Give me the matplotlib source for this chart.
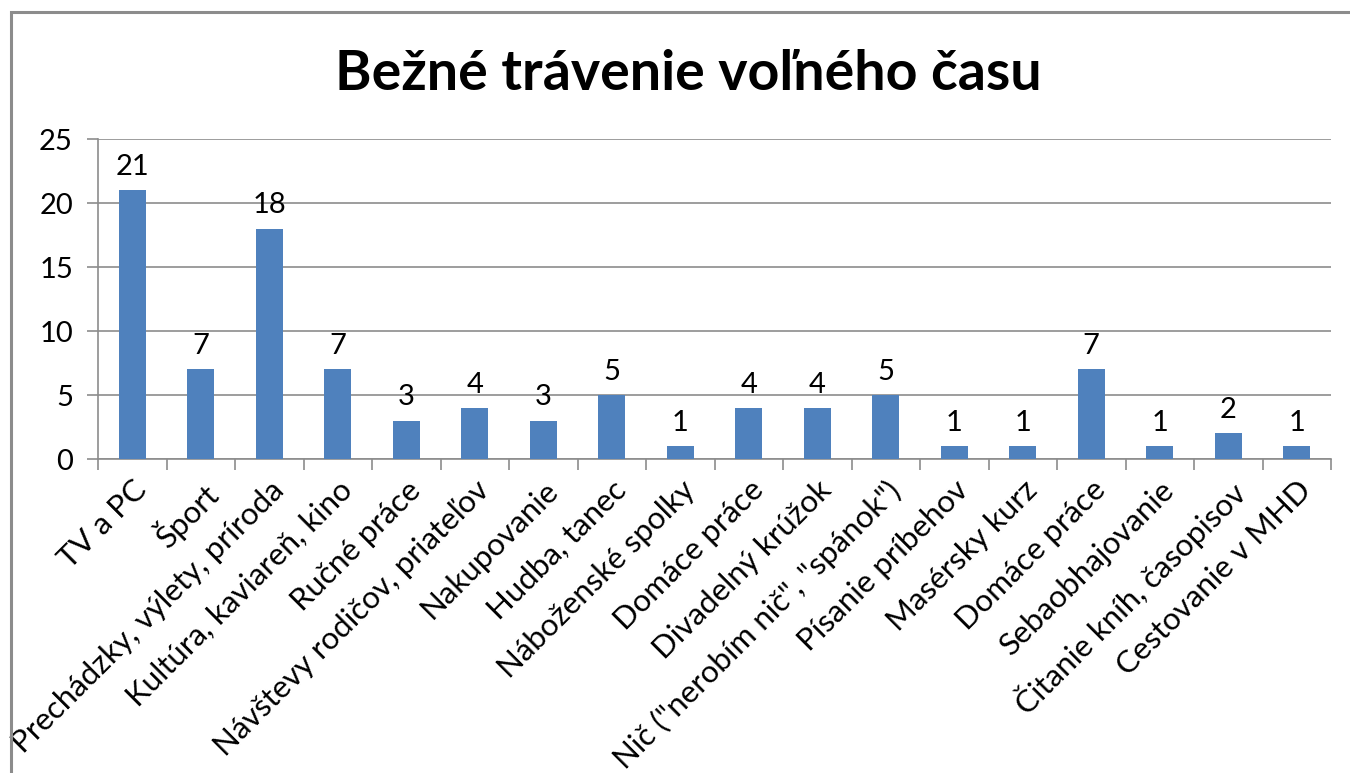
import numpy as np
import matplotlib
matplotlib.use("Agg")
import matplotlib.pyplot as plt
from matplotlib.patches import Rectangle

# ---------------------------------------------------------------------------
# Data
# ---------------------------------------------------------------------------
categories = [
    "TV a PC",
    "Šport",
    "Prechádzky, výlety, príroda",
    "Kultúra, kaviareň, kino",
    "Ručné práce",
    "Návštevy rodičov, priateľov",
    "Nakupovanie",
    "Hudba, tanec",
    "Náboženské spolky",
    "Domáce práce",
    "Divadelný krúžok",
    "Nič (\"nerobím nič\", \"spánok\")",
    "Písanie príbehov",
    "Masérsky kurz",
    "Domáce práce",
    "Sebaobhajovanie",
    "Čitanie kníh, časopisov",
    "Cestovanie v MHD",
]
values = [21, 7, 18, 7, 3, 4, 3, 5, 1, 4, 4, 5, 1, 1, 7, 1, 2, 1]
y_ticks = [0, 5, 10, 15, 20, 25]
title = "Bežné trávenie voľného času"

BAR_COLOR = "#4F81BD"
GRID_COLOR = "#8C8C8C"
FONT = ["Lato", "DejaVu Sans"]

plt.rcParams["font.family"] = FONT

fig = plt.figure(figsize=(13.5, 7.73), dpi=100)

# outer chart frame (Excel style), runs off the right and bottom edges
W, H = 1350, 773
fig.patches.append(Rectangle((11 / W, -0.1), 1.2, 1 - 12 / H + 0.1,
                             transform=fig.transFigure, fill=False,
                             edgecolor="#8C8C8C", linewidth=2.2))

ax = fig.add_axes([98 / W, 1 - 459 / H, (1331 - 98) / W, (459 - 139) / H])

x = np.arange(len(categories))
ax.bar(x, values, width=0.4, color=BAR_COLOR, zorder=3)

for xi, v in zip(x, values):
    ax.text(xi, v + 0.8, str(v), ha="center", va="bottom", fontsize=21, color="#000000")

ax.set_xlim(-0.5, len(categories) - 0.5)
ax.set_ylim(0, 25)
ax.set_yticks(y_ticks)
ax.set_yticklabels([str(t) for t in y_ticks], fontsize=21)
ax.yaxis.grid(True, color=GRID_COLOR, linewidth=1.2, zorder=0)
ax.set_axisbelow(True)

ax.set_xticks(x)
ax.set_xticklabels(categories, rotation=45, ha="right", rotation_mode="anchor", fontsize=22.5)
ax.set_xticks(np.arange(-0.5, len(categories)), minor=True)
ax.tick_params(axis="x", which="major", length=0, pad=12)
ax.tick_params(axis="x", which="minor", length=8, color=GRID_COLOR, width=1.2)
ax.tick_params(axis="y", length=8, color=GRID_COLOR, width=1.2, pad=10)

for side in ["top", "right"]:
    ax.spines[side].set_visible(False)
for side in ["left", "bottom"]:
    ax.spines[side].set_color(GRID_COLOR)
    ax.spines[side].set_linewidth(1.2)

fig.text(0.51, 1 - 74 / H, title, ha="center", va="center", fontsize=40, fontweight="bold")

fig.savefig("out.png", dpi=100)
